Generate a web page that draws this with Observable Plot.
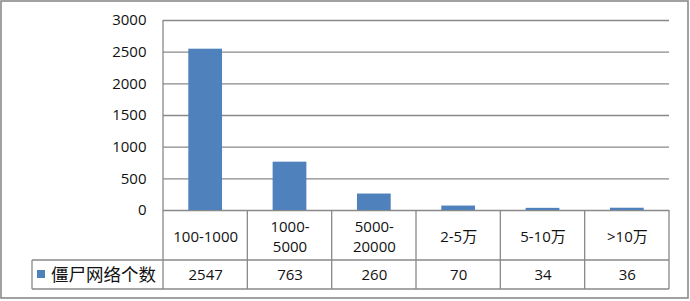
<!DOCTYPE html>
<html><head><meta charset="utf-8">
<script src="https://cdn.jsdelivr.net/npm/d3@7"></script>
<script src="https://cdn.jsdelivr.net/npm/@observablehq/plot@0.6"></script>
<style>
html,body{margin:0;padding:0;background:#fff;}
#chart svg{display:block;}
</style></head><body><div id="chart"></div>
<script>
const categories = ["100-1000","1000-5000","5000-20000","2-5万","5-10万",">10万"];
const headerLabels = ["100-1000","1000-\n5000","5000-\n20000","2-5万","5-10万",">10万"];
const values = [2547,763,260,70,34,36];
const seriesName = "僵尸网络个数";
const yTicks = [0,500,1000,1500,2000,2500,3000];

const data = categories.map((c,i)=>({category:c, header: headerLabels[i], value: values[i]}));
const W=690,H=301;
const FONT = '"Open Sans","Noto Sans CJK SC",sans-serif';
const GRID = "#898989";
const BLUE = "#4F81BD";

const chart = Plot.plot({
  width: W, height: H,
  marginLeft:163, marginRight:21, marginTop:20, marginBottom:91,
  style:{fontFamily:FONT, fontSize:"15px", color:"#000", background:"#fff", overflow:"visible"},
  x:{domain:categories, paddingInner:0.6, paddingOuter:0.3, round:false, axis:null},
  y:{domain:[0,3000], label:null},
  marks:[
    Plot.gridY(yTicks, {stroke:GRID, strokeOpacity:1, strokeWidth:1.3}),
    Plot.axisY(yTicks, {tickSize:0, tickPadding:17, fontSize:15, tickFormat:d=>String(d), fill:"#111", label:null}),
    Plot.barY(data, {x:"category", y:"value", fill:BLUE}),
    Plot.text(data, {x:"category", text:"header", frameAnchor:"bottom", dy:25.5, lineAnchor:"middle", lineHeight:1.33, fontSize:15, fill:"#111"}),
    Plot.text(data, {x:"category", text:d=>String(d.value), frameAnchor:"bottom", dy:65, lineAnchor:"middle", fontSize:15, fill:"#111"})
  ]
});
document.getElementById("chart").appendChild(chart);

// table grid, legend key and outer frame derived from the plot's scales
const sx = chart.scale("x"), sy = chart.scale("y");
const edges = categories.map(c => sx.apply(c) + sx.bandwidth/2 - sx.step/2);
edges.push(edges[edges.length-1] + sx.step);
const y0 = sy.apply(0), yTop = sy.apply(3000);
const y1 = y0 + 50, y2 = y0 + 79;
const xLeft = 32, xRight = edges[edges.length-1];
const svg = d3.select(chart);
const g = svg.append("g").attr("stroke", GRID).attr("stroke-width", 1.3).attr("fill","none");
g.append("line").attr("x1", xLeft).attr("x2", xRight).attr("y1", y1).attr("y2", y1);
g.append("line").attr("x1", xLeft).attr("x2", xRight).attr("y1", y2).attr("y2", y2);
g.append("line").attr("x1", xLeft).attr("x2", xLeft).attr("y1", y1).attr("y2", y2);
edges.forEach((e,i) => {
  g.append("line").attr("x1", e).attr("x2", e).attr("y1", i===0 ? yTop : y0).attr("y2", y2);
});
// legend key
svg.append("rect").attr("x", 37).attr("y", y1 + 10).attr("width", 8).attr("height", 8).attr("fill", BLUE);
svg.append("text").attr("x", 51).attr("y", (y1+y2)/2).attr("dy","0.36em").attr("text-anchor","start")
  .attr("font-family", FONT).attr("font-size", 17.5).attr("fill","#111").text(seriesName);
// outer frame
svg.append("rect").attr("x", 1).attr("y", 1).attr("width", W-3).attr("height", H-4)
  .attr("fill","none").attr("stroke","#8a8a8a").attr("stroke-width", 1.6);
</script></body></html>
